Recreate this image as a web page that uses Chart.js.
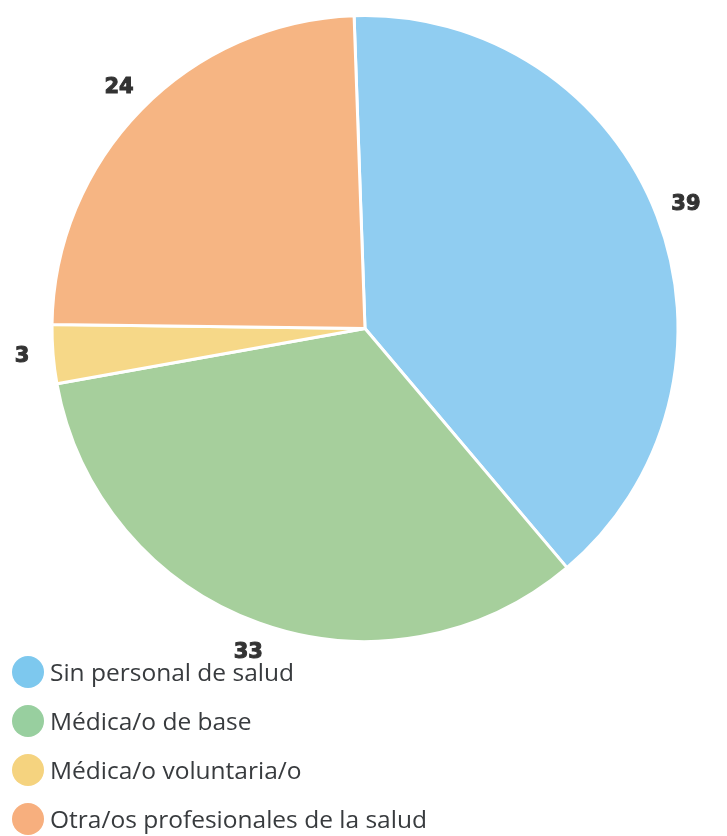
<!DOCTYPE html>
<html>
<head>
<meta charset="utf-8">
<script src="https://cdn.jsdelivr.net/npm/chart.js@4/dist/chart.umd.min.js"></script>
<style>
  body { margin: 0; background: #fff; }
  #wrap { position: relative; width: 727px; height: 836px; }
  #box { position: absolute; left: 0; top: 0; width: 727px; height: 660px; }
  #leyenda { position: absolute; left: 12px; top: 656px; font-family: "Open Sans", sans-serif; font-size: 24.5px; color: #383b3e; }
  .item { height: 49px; display: flex; align-items: flex-start; }
  .dot { width: 32px; height: 32px; border-radius: 50%; margin-right: 6px; flex: none; }
  .txt { line-height: 32px; white-space: nowrap; }
</style>
</head>
<body>
<div id="wrap">
  <div id="box"><canvas id="torta"></canvas></div>
  <div id="leyenda"></div>
</div>
<script>
// datos
var categorias = ["Sin personal de salud", "Médica/o de base", "Médica/o voluntaria/o", "Otra/os profesionales de la salud"];
var valores = [39, 33, 3, 24];

var coloresTorta = ["#90cdf1", "#a6cf9c", "#f6d888", "#f6b583"];
var coloresLeyenda = ["#7dc8ee", "#98cf9f", "#f5d37f", "#f7af7e"];

// etiquetas de valor fuera de cada porcion
var etiquetas = {
  id: "etiquetas",
  afterDatasetsDraw(chart) {
    var ctx = chart.ctx;
    var meta = chart.getDatasetMeta(0);
    ctx.save();
    ctx.font = "bold 21px 'DejaVu Sans'";
    ctx.fillStyle = "#333333";
    ctx.strokeStyle = "#333333";
    ctx.lineWidth = 1;
    ctx.textAlign = "center";
    ctx.textBaseline = "middle";
    meta.data.forEach(function (arc, i) {
      var p = arc.getProps(["x", "y", "startAngle", "endAngle", "outerRadius"], true);
      var medio = (p.startAngle + p.endAngle) / 2;
      var r = p.outerRadius + 31;
      var tx = p.x + Math.cos(medio) * r;
      var ty = p.y + Math.sin(medio) * r;
      ctx.fillText(valores[i], tx, ty);
      ctx.strokeText(valores[i], tx, ty); // un poco mas negrita
    });
    ctx.restore();
  }
};

new Chart("torta", {
  type: "pie",
  data: {
    labels: categorias,
    datasets: [{
      data: valores,
      backgroundColor: coloresTorta,
      borderColor: "#ffffff",
      borderWidth: 3
    }]
  },
  options: {
    responsive: true,
    maintainAspectRatio: false,
    animation: false,
    rotation: -2,
    layout: { padding: { top: 14, bottom: 17, left: 3 } },
    plugins: {
      legend: { display: false },
      tooltip: { enabled: false }
    }
  },
  plugins: [etiquetas]
});

// leyenda html
var ley = document.getElementById("leyenda");
categorias.forEach(function (c, i) {
  var fila = document.createElement("div");
  fila.className = "item";
  fila.innerHTML = '<span class="dot" style="background:' + coloresLeyenda[i] + '"></span><span class="txt">' + c + '</span>';
  ley.appendChild(fila);
});
</script>
</body>
</html>
